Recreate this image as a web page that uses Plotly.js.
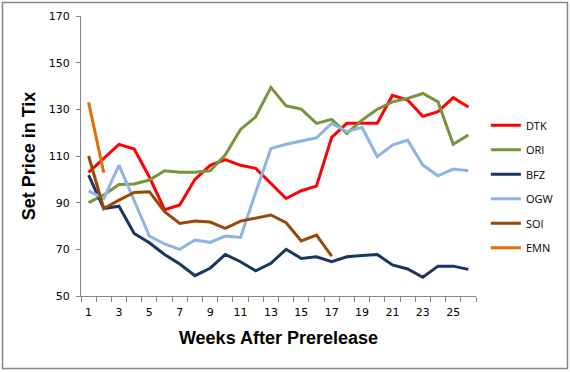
<!DOCTYPE html>
<html>
<head>
<meta charset="utf-8">
<script src="https://cdn.plot.ly/plotly-3.0.1.min.js"></script>
<style>
html,body{margin:0;padding:0;background:#fff;}
#chart{width:570px;height:372px;}
</style>
</head>
<body>
<div id="chart"></div>
<script>
const weeks = ["1","2","3","4","5","6","7","8","9","10","11","12","13","14","15","16","17","18","19","20","21","22","23","24","25","26"];
const DTK = [103,109,115,113,101,87,89,100,106,108.5,106,104.7,98.3,91.8,95.1,97.1,118,124,124,124,136,134,127,129,135,131];
const ORI = [90,93.3,97.8,98,99.7,103.7,103,103,103.7,110.5,121.4,126.8,139.4,131.5,130.1,124,125.7,119.7,125.4,130,133.2,134.7,136.8,133.2,115,119];
const BFZ = [101.8,87.5,88.5,76.8,72.8,67.8,63.7,58.7,61.9,67.8,64.7,60.8,64,70,66.1,66.8,64.7,66.8,67.4,67.8,63.3,61.6,58,62.8,62.8,61.4];
const OGW = [95,91.8,106.1,91,75.7,72.3,70,74,73,75.7,75.1,94.5,113.2,115,116.4,117.8,124,120.4,122.3,109.7,114.7,116.8,106.1,101.5,104.4,103.7];
const SOI = [110,87.5,91.1,94.4,94.7,86.1,81.1,82.1,81.7,79,82.1,83.3,84.7,81.4,73.6,76.1,67.1];
const EMN = [133,102.8];
const seriesNames = ["DTK","ORI","BFZ","OGW","SOI","EMN"];
const seriesValues = [DTK, ORI, BFZ, OGW, SOI, EMN];
const seriesColors = ["#FF0000","#77933C","#17375E","#8DB4E2","#984807","#E46C0A"];
const yTicks = [50,70,90,110,130,150,170];
const xTickText = weeks.map((w,i)=> (i%2===0 ? w : ""));

const traces = seriesNames.map((n,i)=>({
  x: weeks.slice(0, seriesValues[i].length),
  y: seriesValues[i],
  name: n,
  type: 'scatter',
  mode: 'lines',
  legendgroup: n,
  line: {color: seriesColors[i], width: 3}
}));

const axisGray = '#868686';
const layout = {
  width: 570, height: 372,
  margin: {l: 81, r: 94, t: 16, b: 76, autoexpand: false},
  paper_bgcolor: '#fff', plot_bgcolor: '#fff',
  showlegend: true,
  legend: {
    x: 1.025, y: 0.39, xanchor: 'left', yanchor: 'middle',
    font: {family: 'Open Sans, sans-serif', size: 11, color: '#000'},
    tracegroupgap: 5.5,
    itemwidth: 30,
    bgcolor: 'rgba(0,0,0,0)'
  },
  xaxis: {
    type: 'category',
    categoryorder: 'array', categoryarray: weeks,
    range: [-0.5, 25.5],
    tickmode: 'array', tickvals: weeks, ticktext: xTickText,
    tickson: 'boundaries',
    tickangle: 0,
    automargin: false,
    ticks: 'outside', ticklen: 5, tickcolor: axisGray, tickwidth: 1,
    showline: true, linecolor: axisGray, linewidth: 1,
    showgrid: false, zeroline: false,
    tickfont: {family: 'DejaVu Sans, sans-serif', size: 11, color: '#000'},
    ticklabelstandoff: 6,
    title: {text: 'Weeks After Prerelease', font: {family: 'Liberation Sans, Arial, sans-serif', size: 18, color: '#000', weight: 'bold'}, standoff: 13}
  },
  yaxis: {
    range: [50, 170],
    tickmode: 'array', tickvals: yTicks,
    automargin: false,
    ticks: 'outside', ticklen: 4, tickcolor: axisGray, tickwidth: 1,
    showline: true, linecolor: axisGray, linewidth: 1,
    showgrid: false, zeroline: false,
    tickfont: {family: 'DejaVu Sans, sans-serif', size: 11, color: '#000'},
    ticklabelstandoff: 4,
    title: {text: 'Set Price in Tix', font: {family: 'Liberation Sans, Arial, sans-serif', size: 18, color: '#000', weight: 'bold'}, standoff: 8}
  },
  shapes: [{
    type: 'rect', xref: 'paper', yref: 'paper',
    x0: (2.5-81)/395, x1: (567.5-81)/395,
    y0: (296-368.5)/280, y1: (296-2.5)/280,
    line: {color: axisGray, width: 1.5}, fillcolor: 'rgba(0,0,0,0)'
  }]
};

Plotly.newPlot('chart', traces, layout, {displayModeBar: false, staticPlot: true});
</script>
</body>
</html>
